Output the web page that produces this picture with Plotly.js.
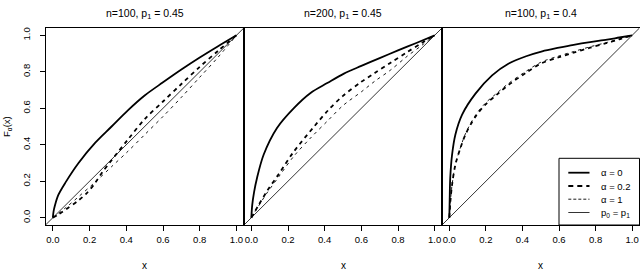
<!DOCTYPE html>
<html><head><meta charset="utf-8">
<script src="https://cdn.plot.ly/plotly-3.0.1.min.js"></script>
<style>html,body{margin:0;padding:0;background:#fff}#chart{width:640px;height:270px}</style>
</head><body><div id="chart"></div>
<script>
// ---- data ----
const panelTitles = ["n=100, p<sub>1</sub> = 0.45", "n=200, p<sub>1</sub> = 0.45", "n=100, p<sub>1</sub> = 0.4"];
const xTickVals = [0, 0.2, 0.4, 0.6, 0.8, 1.0];
const xTickText = ["0.0", "0.2", "0.4", "0.6", "0.8", "1.0"];
const yTickVals = [0, 0.2, 0.4, 0.6, 0.8, 1.0];
const yTickText = ["0.0", "0.2", "0.4", "0.6", "0.8", "1.0"];
const legendLabels = ["α = 0", "α = 0.2", "α = 1", "p<sub>0</sub> = p<sub>1</sub>"];
const diagX = [-0.04, 1.04];
const diagY = [-0.04, 1.04];

// panel 1: n=100, p1=0.45
const p1A0x  = [0, 0.004, 0.012, 0.03, 0.07, 0.14, 0.23, 0.32, 0.41, 0.5, 0.6, 0.7, 0.8, 0.9, 1];
const p1A0y  = [0, 0.035, 0.07, 0.125, 0.195, 0.30, 0.41, 0.50, 0.59, 0.67, 0.742, 0.812, 0.878, 0.94, 1];
const p1A02x = [0, 0.03, 0.07, 0.14, 0.185, 0.23, 0.27, 0.32, 0.41, 0.5, 0.6, 0.7, 0.8, 0.9, 1];
const p1A02y = [0, 0.018, 0.045, 0.095, 0.135, 0.19, 0.25, 0.315, 0.43, 0.54, 0.637, 0.733, 0.827, 0.915, 1];
const p1A1x  = [0, 0.07, 0.14, 0.23, 0.32, 0.41, 0.5, 0.6, 0.7, 0.8, 0.9, 1];
const p1A1y  = [0, 0.055, 0.115, 0.195, 0.28, 0.365, 0.455, 0.555, 0.66, 0.77, 0.88, 1];

// panel 2: n=200, p1=0.45
const p2A0x  = [0, 0.005, 0.015, 0.031, 0.067, 0.14, 0.232, 0.323, 0.414, 0.505, 0.6, 0.7, 0.8, 0.9, 1];
const p2A0y  = [0, 0.07, 0.14, 0.218, 0.345, 0.492, 0.601, 0.684, 0.738, 0.79, 0.832, 0.875, 0.917, 0.958, 1];
const p2A02x = [0, 0.04, 0.085, 0.15, 0.23, 0.34, 0.42, 0.5, 0.6, 0.673, 0.76, 0.85, 0.93, 1];
const p2A02y = [0, 0.07, 0.145, 0.24, 0.36, 0.497, 0.59, 0.668, 0.745, 0.793, 0.85, 0.908, 0.958, 1];
const p2A1x  = [0, 0.04, 0.085, 0.15, 0.23, 0.323, 0.42, 0.5, 0.6, 0.673, 0.76, 0.85, 0.93, 1];
const p2A1y  = [0, 0.065, 0.135, 0.225, 0.335, 0.437, 0.535, 0.615, 0.69, 0.748, 0.81, 0.885, 0.945, 1];

// panel 3: n=100, p1=0.4
const p3A0x  = [0, 0.002, 0.005, 0.015, 0.033, 0.07, 0.143, 0.234, 0.325, 0.42, 0.508, 0.6, 0.68, 0.77, 0.863, 0.93, 1];
const p3A0y  = [0, 0.1, 0.218, 0.345, 0.455, 0.565, 0.68, 0.78, 0.845, 0.885, 0.912, 0.932, 0.948, 0.963, 0.976, 0.988, 1];
const p3A02x = [0, 0.006, 0.015, 0.033, 0.06, 0.088, 0.14, 0.197, 0.26, 0.326, 0.42, 0.5, 0.6, 0.68, 0.77, 0.863, 0.93, 1];
const p3A02y = [0, 0.09, 0.18, 0.29, 0.38, 0.455, 0.55, 0.62, 0.675, 0.73, 0.795, 0.845, 0.88, 0.905, 0.932, 0.958, 0.978, 1];
const p3A1x  = [0, 0.006, 0.015, 0.033, 0.06, 0.088, 0.14, 0.197, 0.26, 0.326, 0.42, 0.5, 0.6, 0.68, 0.77, 0.863, 0.93, 1];
const p3A1y  = [0, 0.09, 0.18, 0.29, 0.382, 0.46, 0.557, 0.628, 0.683, 0.738, 0.803, 0.852, 0.887, 0.911, 0.937, 0.961, 0.979, 1];

// ---- styles ----
const FONT = 'Liberation Sans, Arial, Helvetica, sans-serif';
const seriesStyles = [
  {width: 1.8, dash: 'solid'},
  {width: 1.8, dash: '4px,4px'},
  {width: 0.9, dash: '3px,4px'},
  {width: 0.8, dash: 'solid'}
];
const legendDash = ['solid', '5px,4px', '3px,2px', 'solid'];

const panels = [
  {a0: [p1A0x, p1A0y], a02: [p1A02x, p1A02y], a1: [p1A1x, p1A1y]},
  {a0: [p2A0x, p2A0y], a02: [p2A02x, p2A02y], a1: [p2A1x, p2A1y]},
  {a0: [p3A0x, p3A0y], a02: [p3A02x, p3A02y], a1: [p3A1x, p3A1y]}
];

const W = 640, H = 270;
const xDomPx = [[45.5, 243.8], [244, 442], [442, 639.5]];
const yDomPx = [28, 225];
const yDom = [1 - yDomPx[1] / H, 1 - yDomPx[0] / H];

const traces = [];
panels.forEach((p, i) => {
  const xa = i === 0 ? 'x' : 'x' + (i + 1);
  const ya = i === 0 ? 'y' : 'y' + (i + 1);
  const sets = [p.a0, p.a02, p.a1];
  sets.forEach((s, k) => {
    traces.push({x: s[0], y: s[1], xaxis: xa, yaxis: ya, type: 'scatter', mode: 'lines',
      line: {color: '#000', width: seriesStyles[k].width, dash: seriesStyles[k].dash, shape: 'spline', smoothing: 0.9},
      showlegend: false, hoverinfo: 'skip'});
  });
  traces.push({x: diagX, y: diagY, xaxis: xa, yaxis: ya, type: 'scatter', mode: 'lines',
    line: {color: '#000', width: seriesStyles[3].width}, showlegend: false, hoverinfo: 'skip'});
});

const layout = {
  width: W, height: H,
  margin: {l: 0, r: 0, t: 0, b: 0},
  paper_bgcolor: '#fff', plot_bgcolor: '#fff',
  font: {family: FONT, size: 9.5, color: '#000'},
  showlegend: false,
  annotations: [],
  shapes: []
};

for (let i = 0; i < 3; i++) {
  const sfx = i === 0 ? '' : String(i + 1);
  layout['xaxis' + sfx] = {
    domain: [xDomPx[i][0] / W, xDomPx[i][1] / W], range: [-0.04, 1.04], anchor: 'y' + sfx,
    showgrid: false, zeroline: false, showline: true, mirror: true, linecolor: '#000', linewidth: 1,
    ticks: 'outside', ticklen: 5, tickwidth: 1, tickcolor: '#000', ticklabelstandoff: 1,
    tickvals: xTickVals, ticktext: xTickText, tickfont: {family: FONT, size: 9.5, color: '#000'}
  };
  layout['yaxis' + sfx] = {
    domain: yDom, range: [-0.04, 1.04], anchor: 'x' + sfx,
    showgrid: false, zeroline: false, showline: true, mirror: true, linecolor: '#000', linewidth: 1,
    ticks: i === 0 ? 'outside' : '', ticklen: 5, tickwidth: 1, tickcolor: '#000',
    tickvals: yTickVals, ticktext: yTickText, showticklabels: i === 0, tickangle: -90,
    ticklabelstandoff: 6,
    tickfont: {family: FONT, size: 9.5, color: '#000'}
  };
  const cx = (xDomPx[i][0] + xDomPx[i][1]) / 2 / W;
  layout.annotations.push({text: panelTitles[i], xref: 'paper', yref: 'paper', x: cx, y: 1 - 14 / H,
    xanchor: 'center', yanchor: 'middle', showarrow: false, font: {family: FONT, size: 10.5, color: '#000'}});
  layout.annotations.push({text: 'x', xref: 'paper', yref: 'paper', x: cx, y: 1 - 265 / H,
    xanchor: 'center', yanchor: 'middle', showarrow: false, font: {family: FONT, size: 10, color: '#000'}});
}
layout.annotations.push({text: 'F<sub>α</sub>(x)', xref: 'paper', yref: 'paper', x: 7 / W, y: 1 - 127 / H,
  xanchor: 'center', yanchor: 'middle', textangle: -90, showarrow: false, font: {family: FONT, size: 9.5, color: '#000'}});

// legend box drawn inside panel 3
const lgBox = {x0: 559, x1: 639.5, y0: 158.3, y1: 225};
layout.shapes.push({type: 'rect', xref: 'paper', yref: 'paper', layer: 'above',
  x0: lgBox.x0 / W, x1: lgBox.x1 / W, y0: 1 - lgBox.y1 / H, y1: 1 - lgBox.y0 / H,
  line: {color: '#000', width: 1}, fillcolor: '#fff'});
const rowY = [172.7, 186, 199.2, 212.5];
legendLabels.forEach((lab, k) => {
  layout.shapes.push({type: 'line', xref: 'paper', yref: 'paper', layer: 'above',
    x0: 568.3 / W, x1: 589.5 / W, y0: 1 - rowY[k] / H, y1: 1 - rowY[k] / H,
    line: {color: '#000', width: seriesStyles[k].width, dash: legendDash[k]}});
  layout.annotations.push({text: lab, xref: 'paper', yref: 'paper', x: 599 / W, y: 1 - rowY[k] / H,
    xanchor: 'left', yanchor: 'middle', showarrow: false, font: {family: FONT, size: 9.5, color: '#000'}});
});

Plotly.newPlot('chart', traces, layout, {staticPlot: true, displayModeBar: false});
</script>
</body></html>
